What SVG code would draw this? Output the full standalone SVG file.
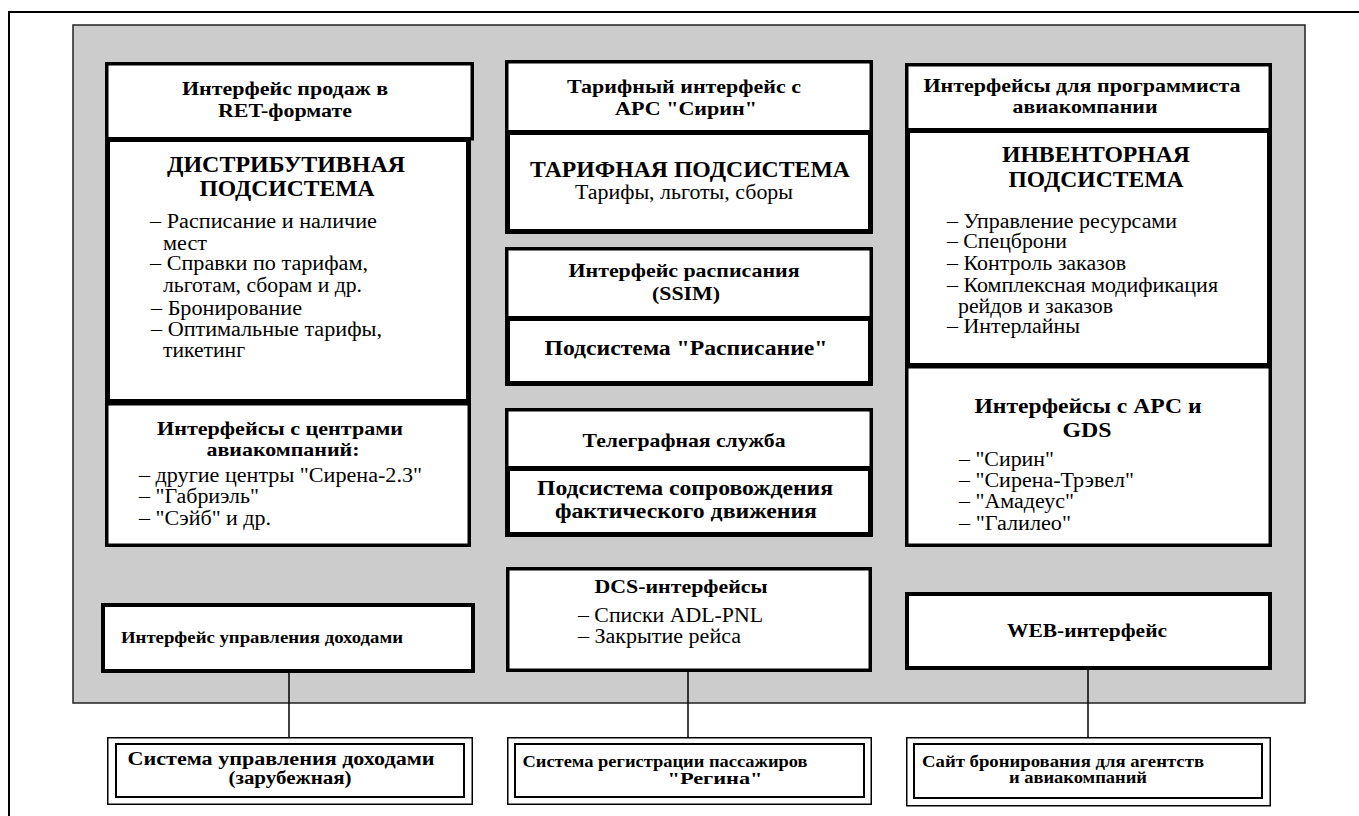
<svg xmlns="http://www.w3.org/2000/svg" width="1359" height="816" viewBox="0 0 1359 816">
<style>
.t{font-family:"Liberation Serif","Times New Roman",serif;fill:#000}
.b{font-weight:bold}
.h{font-size:19px}
.big{font-size:23px;font-weight:bold}
.l{font-size:20px}
.c{text-anchor:middle}
.box{fill:#fff;stroke:#000;stroke-width:3.5}
.thick{fill:#fff;stroke:#000;stroke-width:5}
.ext{fill:#fff;stroke:#000;stroke-width:1.5}
.ext2{fill:none;stroke:#000;stroke-width:2}
.con{stroke:#000;stroke-width:1.5;fill:none}
</style>
<path d="M9,816 V12 H1359" fill="none" stroke="#000" stroke-width="2"/>
<rect x="73" y="25" width="1232" height="678" fill="#cccccc" stroke="#222" stroke-width="1.5"/>

<g id="connectors">
<line class="con" x1="289" y1="673" x2="289" y2="737"/>
<line class="con" x1="688" y1="672" x2="688" y2="737"/>
<line class="con" x1="1088" y1="670" x2="1088" y2="737"/>
</g>

<g id="ret-interface">
<rect class="box" x="106.75" y="63.75" width="365.5" height="75"/>
<text class="t b h c" x="285" y="95" textLength="206" lengthAdjust="spacingAndGlyphs">Интерфейс продаж в</text>
<text class="t b h c" x="285" y="117" textLength="134" lengthAdjust="spacingAndGlyphs">RET-формате</text>
</g>
<g id="airline-centers">
<rect class="box" x="106.75" y="403.75" width="362.5" height="141.5"/>
<text class="t b h c" x="280" y="435" textLength="246" lengthAdjust="spacingAndGlyphs">Интерфейсы с центрами</text>
<text class="t b h c" x="283" y="456" textLength="153" lengthAdjust="spacingAndGlyphs">авиакомпаний:</text>
<text class="t l" x="139" y="482" textLength="283" lengthAdjust="spacingAndGlyphs">– другие центры "Сирена-2.3"</text>
<text class="t l" x="139" y="503" textLength="120" lengthAdjust="spacingAndGlyphs">– "Габриэль"</text>
<text class="t l" x="139" y="525" textLength="132" lengthAdjust="spacingAndGlyphs">– "Сэйб" и др.</text>
</g>
<g id="distributive">
<rect class="thick" x="107.5" y="139.5" width="361" height="262"/>
<text class="t big c" x="286" y="172" textLength="238" lengthAdjust="spacingAndGlyphs">ДИСТРИБУТИВНАЯ</text>
<text class="t big c" x="287" y="196" textLength="175" lengthAdjust="spacingAndGlyphs">ПОДСИСТЕМА</text>
<text class="t l" x="150" y="228" textLength="227" lengthAdjust="spacingAndGlyphs">– Расписание и наличие</text>
<text class="t l" x="163" y="250" textLength="44" lengthAdjust="spacingAndGlyphs">мест</text>
<text class="t l" x="150" y="270" textLength="218" lengthAdjust="spacingAndGlyphs">– Справки по тарифам,</text>
<text class="t l" x="163" y="292" textLength="199" lengthAdjust="spacingAndGlyphs">льготам, сборам и др.</text>
<text class="t l" x="151" y="315" textLength="151" lengthAdjust="spacingAndGlyphs">– Бронирование</text>
<text class="t l" x="151" y="336" textLength="231" lengthAdjust="spacingAndGlyphs">– Оптимальные тарифы,</text>
<text class="t l" x="163" y="357" textLength="82" lengthAdjust="spacingAndGlyphs">тикетинг</text>
</g>

<g id="tariff-interface">
<rect class="box" x="506.75" y="61.75" width="364.5" height="71"/>
<text class="t b h c" x="684" y="93" textLength="234" lengthAdjust="spacingAndGlyphs">Тарифный интерфейс с</text>
<text class="t b h c" x="686" y="115" textLength="142" lengthAdjust="spacingAndGlyphs">АРС "Сирин"</text>
</g>
<g id="tariff-subsystem">
<rect class="thick" x="507.5" y="132.5" width="363" height="99"/>
<text class="t big c" x="690" y="177" textLength="320" lengthAdjust="spacingAndGlyphs">ТАРИФНАЯ ПОДСИСТЕМА</text>
<text class="t l c" x="684" y="199" textLength="218" lengthAdjust="spacingAndGlyphs">Тарифы, льготы, сборы</text>
</g>
<g id="schedule-interface">
<rect class="box" x="506.75" y="248.75" width="364.5" height="70"/>
<text class="t b h c" x="684" y="277" textLength="231" lengthAdjust="spacingAndGlyphs">Интерфейс расписания</text>
<text class="t b h c" x="686" y="300" textLength="68" lengthAdjust="spacingAndGlyphs">(SSIM)</text>
</g>
<g id="schedule-subsystem">
<rect class="thick" x="507.5" y="318.5" width="363" height="65"/>
<text class="t b c" style="font-size:20px" x="686" y="355" textLength="283" lengthAdjust="spacingAndGlyphs">Подсистема "Расписание"</text>
</g>
<g id="telegraph">
<rect class="box" x="506.75" y="409.75" width="364.5" height="58"/>
<text class="t b h c" x="684" y="447" textLength="203" lengthAdjust="spacingAndGlyphs">Телеграфная служба</text>
</g>
<g id="flight-tracking">
<rect class="thick" x="507.5" y="468.5" width="363" height="66"/>
<text class="t b c" style="font-size:20px" x="685" y="495" textLength="296" lengthAdjust="spacingAndGlyphs">Подсистема сопровождения</text>
<text class="t b c" style="font-size:20px" x="686" y="518" textLength="262" lengthAdjust="spacingAndGlyphs">фактического движения</text>
</g>
<g id="dcs">
<rect class="box" x="507.75" y="568.75" width="362.5" height="101.5"/>
<text class="t b h c" x="681" y="593" textLength="173" lengthAdjust="spacingAndGlyphs">DCS-интерфейсы</text>
<text class="t l" x="578" y="622" textLength="185" lengthAdjust="spacingAndGlyphs">– Списки ADL-PNL</text>
<text class="t l" x="578" y="643" textLength="163" lengthAdjust="spacingAndGlyphs">– Закрытие рейса</text>
</g>

<g id="programmer-interfaces">
<rect class="box" x="906.75" y="64.75" width="363.5" height="66"/>
<text class="t b h c" x="1082" y="92" textLength="317" lengthAdjust="spacingAndGlyphs">Интерфейсы для программиста</text>
<text class="t b h c" x="1085" y="113" textLength="145" lengthAdjust="spacingAndGlyphs">авиакомпании</text>
</g>
<g id="gds-interfaces">
<rect class="box" x="906.75" y="366.75" width="363.5" height="178.5"/>
<text class="t b c" style="font-size:21px" x="1088" y="413" textLength="227" lengthAdjust="spacingAndGlyphs">Интерфейсы с АРС и</text>
<text class="t b c" style="font-size:21px" x="1087" y="437" textLength="49" lengthAdjust="spacingAndGlyphs">GDS</text>
<text class="t l" x="959" y="466" textLength="95" lengthAdjust="spacingAndGlyphs">– "Сирин"</text>
<text class="t l" x="959" y="487" textLength="175" lengthAdjust="spacingAndGlyphs">– "Сирена-Трэвел"</text>
<text class="t l" x="959" y="508" textLength="115" lengthAdjust="spacingAndGlyphs">– "Амадеус"</text>
<text class="t l" x="959" y="530" textLength="112" lengthAdjust="spacingAndGlyphs">– "Галилео"</text>
</g>
<g id="inventory">
<rect class="thick" x="907.5" y="130.5" width="362" height="235"/>
<text class="t big c" x="1096" y="162" textLength="188" lengthAdjust="spacingAndGlyphs">ИНВЕНТОРНАЯ</text>
<text class="t big c" x="1096" y="187" textLength="175" lengthAdjust="spacingAndGlyphs">ПОДСИСТЕМА</text>
<text class="t l" x="947" y="228" textLength="230" lengthAdjust="spacingAndGlyphs">– Управление ресурсами</text>
<text class="t l" x="947" y="248" textLength="120" lengthAdjust="spacingAndGlyphs">– Спецброни</text>
<text class="t l" x="947" y="270" textLength="179" lengthAdjust="spacingAndGlyphs">– Контроль заказов</text>
<text class="t l" x="947" y="292" textLength="271" lengthAdjust="spacingAndGlyphs">– Комплексная модификация</text>
<text class="t l" x="958" y="313" textLength="155" lengthAdjust="spacingAndGlyphs">рейдов и заказов</text>
<text class="t l" x="947" y="333" textLength="133" lengthAdjust="spacingAndGlyphs">– Интерлайны</text>
</g>

<g id="revenue-interface">
<rect x="103" y="605" width="370" height="66" fill="#fff" stroke="#000" stroke-width="4"/>
<text class="t b" style="font-size:17px" x="121" y="643" textLength="282" lengthAdjust="spacingAndGlyphs">Интерфейс управления доходами</text>
</g>
<g id="web-interface">
<rect x="907" y="594" width="363" height="74" fill="#fff" stroke="#000" stroke-width="4"/>
<text class="t b c" style="font-size:19px" x="1087" y="637" textLength="160" lengthAdjust="spacingAndGlyphs">WEB-интерфейс</text>
</g>

<g id="revenue-system">
<rect class="ext" x="107.75" y="737.75" width="364.5" height="66.5"/>
<rect class="ext2" x="116" y="744" width="348" height="53"/>
<text class="t b c" style="font-size:18px" x="281" y="765" textLength="307" lengthAdjust="spacingAndGlyphs">Система управления доходами</text>
<text class="t b c" style="font-size:18px" x="290" y="784" textLength="123" lengthAdjust="spacingAndGlyphs">(зарубежная)</text>
</g>
<g id="regina">
<rect class="ext" x="507.75" y="737.75" width="363.5" height="66.5"/>
<rect class="ext2" x="515" y="744" width="349" height="53"/>
<text class="t b c" style="font-size:16px" x="665" y="767" textLength="285" lengthAdjust="spacingAndGlyphs">Система регистрации пассажиров</text>
<text class="t b c" style="font-size:16px" x="715" y="784" textLength="95" lengthAdjust="spacingAndGlyphs">"Регина"</text>
</g>
<g id="booking-site">
<rect class="ext" x="906.75" y="737.75" width="363.5" height="68"/>
<rect class="ext2" x="914" y="744" width="348" height="54"/>
<text class="t b c" style="font-size:16px" x="1063" y="767" textLength="282" lengthAdjust="spacingAndGlyphs">Сайт бронирования для агентств</text>
<text class="t b c" style="font-size:16px" x="1078" y="783" textLength="138" lengthAdjust="spacingAndGlyphs">и авиакомпаний</text>
</g>
</svg>
